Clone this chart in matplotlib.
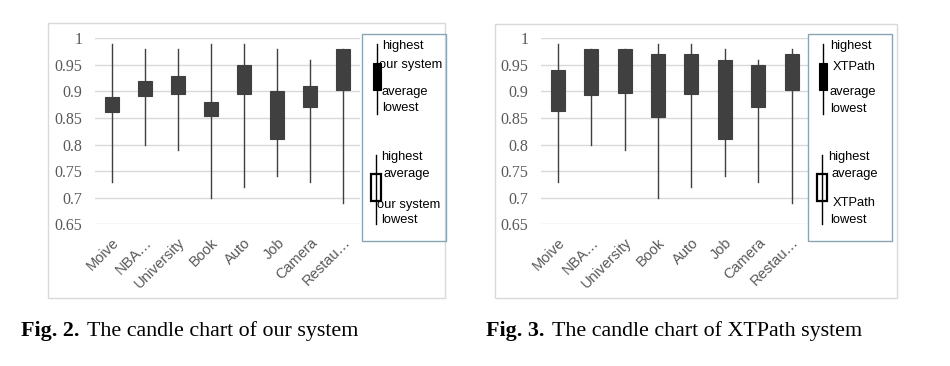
import matplotlib
matplotlib.use('Agg')
import matplotlib.pyplot as plt
from matplotlib.patches import Rectangle
from matplotlib.lines import Line2D

categories = ['Moive', 'NBA…', 'University', 'Book', 'Auto', 'Job', 'Camera', 'Restau…']

# our system
ours_high = [0.99, 0.98, 0.98, 0.99, 0.99, 0.98, 0.96, 0.98]
ours_low = [0.73, 0.80, 0.79, 0.70, 0.72, 0.74, 0.73, 0.69]
ours_sys = [0.89, 0.92, 0.93, 0.88, 0.95, 0.90, 0.91, 0.98]
ours_avg = [0.862, 0.891, 0.895, 0.853, 0.895, 0.81, 0.87, 0.903]

# XTPath
xt_high = [0.99, 0.98, 0.98, 0.99, 0.99, 0.98, 0.96, 0.98]
xt_low = [0.73, 0.80, 0.79, 0.70, 0.72, 0.74, 0.73, 0.69]
xt_sys = [0.94, 0.98, 0.98, 0.97, 0.97, 0.96, 0.95, 0.97]
xt_avg = [0.863, 0.893, 0.897, 0.852, 0.895, 0.81, 0.87, 0.902]

yticks = [0.65, 0.7, 0.75, 0.8, 0.85, 0.9, 0.95, 1]
ytick_labels = ['0.65', '0.7', '0.75', '0.8', '0.85', '0.9', '0.95', '1']

W, H = 950, 366
fig = plt.figure(figsize=(W / 100, H / 100), dpi=100)

def fx(px):
    return px / W

def fy(py):
    return 1 - py / H

def candles(ax, high, low, sysv, avgv):
    for i in range(len(categories)):
        ax.plot([i, i], [low[i], high[i]], color='#404040', lw=1.0, zorder=2)
        lo, hi = min(sysv[i], avgv[i]), max(sysv[i], avgv[i])
        filled = sysv[i] >= avgv[i]
        ax.add_patch(Rectangle((i - 0.21, lo), 0.42, hi - lo,
                               facecolor='#404040' if filled else 'white',
                               edgecolor='#404040', lw=0.8, zorder=3))
    ax.set_xlim(-0.5, len(categories) - 0.5)
    ax.set_ylim(0.65, 1.0)
    ax.set_yticks(yticks)
    ax.set_yticklabels(ytick_labels, family='Liberation Serif', fontsize=11.5, color='#595959')
    ax.set_xticks(range(len(categories)))
    ax.set_xticklabels(categories, rotation=45, ha='right', rotation_mode='anchor',
                       family='Liberation Sans', fontsize=10.5, color='#595959')
    ax.tick_params(length=0, axis='y', pad=9)
    ax.tick_params(length=0, axis='x', pad=8)
    ax.grid(axis='y', color='#d9d9d9', lw=1)
    ax.set_axisbelow(True)
    for s in ax.spines.values():
        s.set_visible(False)

def frame(x0, y0, x1, y1, color, lw):
    fig.add_artist(Rectangle((fx(x0), fy(y1)), fx(x1 - x0), (y1 - y0) / H,
                             transform=fig.transFigure, fill=False,
                             edgecolor=color, lw=lw))

def legend(x0, tops, bots):
    # legend box
    frame(x0, 34, x0 + 84, 241, '#8aa4b4', 1.0)
    wx = x0 + 15
    # filled candle
    fig.add_artist(Line2D([fx(wx), fx(wx)], [fy(44), fy(114)], transform=fig.transFigure,
                          color='black', lw=1.0))
    fig.add_artist(Rectangle((fx(wx - 4), fy(90)), fx(8), 27 / H, transform=fig.transFigure,
                             facecolor='black', edgecolor='black', lw=0.8))
    # hollow candle
    fig.add_artist(Line2D([fx(wx - 1), fx(wx - 1)], [fy(155), fy(224)], transform=fig.transFigure,
                          color='black', lw=1.0))
    fig.add_artist(Rectangle((fx(wx - 6), fy(201)), fx(10), 27 / H, transform=fig.transFigure,
                             facecolor='white', edgecolor='black', lw=1.6))
    kw = dict(family='Liberation Sans', fontsize=9.3, color='black', va='center', ha='left')
    for (dx, py, s) in tops + bots:
        fig.text(fx(x0 + dx), fy(py), s, **kw)

# left panel
frame(48, 23, 445, 298, '#d9d9d9', 1.0)
ax1 = fig.add_axes([fx(95), fy(224.3), fx(265), (224.3 - 38.3) / H])
candles(ax1, ours_high, ours_low, ours_sys, ours_avg)
legend(362,
       [(20, 46.5, 'highest'), (17, 65, 'our system'), (20, 91.5, 'average'), (20, 108, 'lowest')],
       [(19, 157, 'highest'), (21, 173.5, 'average'), (15, 205, 'our system'), (19, 219.5, 'lowest')])

# right panel
frame(495, 24, 897, 298, '#d9d9d9', 1.0)
ax2 = fig.add_axes([fx(541), fy(224.3), fx(267.4), (224.3 - 38.3) / H])
candles(ax2, xt_high, xt_low, xt_sys, xt_avg)
legend(808,
       [(22, 46.5, 'highest'), (25, 66.5, 'XTPath'), (22, 91.5, 'average'), (22, 109, 'lowest')],
       [(20, 157, 'highest'), (24, 173.5, 'average'), (25, 202.5, 'XTPath'), (22, 220, 'lowest')])

# captions
cap = dict(family='Liberation Serif', fontsize=15.8, va='center', ha='left')
fig.text(fx(21), fy(331), 'Fig. 2.', fontweight='bold', **cap)
fig.text(fx(87), fy(331), 'The candle chart of our system', **cap)
fig.text(fx(486), fy(331), 'Fig. 3.', fontweight='bold', **cap)
fig.text(fx(552), fy(331), 'The candle chart of XTPath system', **cap)

fig.savefig('out.png', dpi=100, facecolor='white')
